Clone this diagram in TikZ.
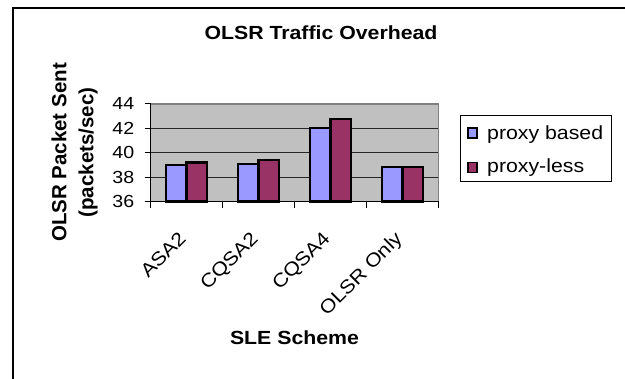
\documentclass[tikz,border=0pt]{standalone}
\usepackage{fontspec}
\setmainfont{Liberation Sans}[FakeStretch=1.12]
\newfontfamily\sidefont{Liberation Sans}
\definecolor{barblue}{HTML}{9999FF}
\definecolor{barplum}{HTML}{993366}
\definecolor{plotgray}{HTML}{C0C0C0}
\definecolor{bordergray}{HTML}{808080}
\begin{document}
\begin{tikzpicture}[x=1pt,y=-1pt,
  every node/.style={inner sep=0pt},
  headtext/.style={font=\fontsize{19}{22}\selectfont\bfseries},
  sidetext/.style={font=\sidefont\fontsize{20.5}{24}\selectfont\bfseries,rotate=90},
  ticktext/.style={font=\fontsize{17.5}{20}\selectfont,anchor=east},
  cattext/.style={font=\fontsize{19}{22}\selectfont,rotate=45,anchor=north east},
  legtext/.style={font=\fontsize{19}{22}\selectfont,anchor=base west},
  bluebar/.style={fill=barblue,draw=black,line width=2.2pt},
  plumbar/.style={fill=barplum,draw=black,line width=2.2pt}]
\useasboundingbox (0,0) rectangle (625,379);
\draw[line width=1.8pt] (13.3,379) -- (13.3,8.3) -- (625,8.3);
\node[headtext] (title) at (321,33) {OLSR Traffic Overhead};
\node[sidetext] (ytitle) at (59,152.5) {OLSR Packet Sent};
\node[sidetext] (yunit) at (88,152.5) {(packets/sec)};
\node[headtext] (xtitle) at (294.5,337.5) {SLE Scheme};
% plot area, one unit per category and per packet/sec
\begin{scope}[shift={(150.5,201.5)},x=72pt,y=12.19pt,shift={(0,-36)}]
\fill[plotgray] (0,36) rectangle (4,44);
\draw[black!85,line width=0.9pt] (0,38) -- (4,38);
\draw[black!85,line width=0.9pt] (0,40) -- (4,40);
\draw[black!85,line width=0.9pt] (0,42) -- (4,42);
\draw[bluebar] (0.2125,36) rectangle (0.5,39.0);
\draw[plumbar] (0.5,36) rectangle (0.7875,39.2);
\draw[bluebar] (1.2125,36) rectangle (1.5,39.05);
\draw[plumbar] (1.5,36) rectangle (1.7875,39.4);
\draw[bluebar] (2.2125,36) rectangle (2.5,42.0);
\draw[plumbar] (2.5,36) rectangle (2.7875,42.8);
\draw[bluebar] (3.2125,36) rectangle (3.5,38.8);
\draw[plumbar] (3.5,36) rectangle (3.7875,38.8);
\draw[bordergray,line width=1.4pt] (0,44) -- (4,44) -- (4,36);
\draw[line width=1pt] (0,44) -- (0,36) -- (4,36);
\draw[line width=1pt] (-6pt,44) -- (0,44);
\draw[line width=1pt] (-6pt,42) -- (0,42);
\draw[line width=1pt] (-6pt,40) -- (0,40);
\draw[line width=1pt] (-6pt,38) -- (0,38);
\draw[line width=1pt] (-6pt,36) -- (0,36);
\draw[line width=1pt] (0,36) -- ++(0,-6.5pt);
\draw[line width=1pt] (1,36) -- ++(0,-6.5pt);
\draw[line width=1pt] (2,36) -- ++(0,-6.5pt);
\draw[line width=1pt] (3,36) -- ++(0,-6.5pt);
\draw[line width=1pt] (4,36) -- ++(0,-6.5pt);
\node[ticktext] (lab44) at ([xshift=-16pt]0,44) {44};
\node[ticktext] (lab42) at ([xshift=-16pt]0,42) {42};
\node[ticktext] (lab40) at ([xshift=-16pt]0,40) {40};
\node[ticktext] (lab38) at ([xshift=-16pt]0,38) {38};
\node[ticktext] (lab36) at ([xshift=-16pt]0,36) {36};
\node[cattext] (asa) at ([xshift=-9pt,yshift=-28.5pt]0.5,36) {ASA2};
\node[cattext] (cqsatwo) at ([xshift=-9pt,yshift=-28.5pt]1.5,36) {CQSA2};
\node[cattext] (cqsafour) at ([xshift=-9pt,yshift=-28.5pt]2.5,36) {CQSA4};
\node[cattext] (olsronly) at ([xshift=-9pt,yshift=-28.5pt]3.5,36) {OLSR Only};
\end{scope}
% legend
\draw[line width=1pt] (460,116) rectangle (611.5,182);
\draw[bluebar,line width=1.8pt] (468,128) rectangle (477,138);
\draw[plumbar,line width=1.8pt] (468,162.5) rectangle (477,172.5);
\node[legtext] (legblue) at (487,139.5) {proxy based};
\node[legtext] (legplum) at (487,172.5) {proxy-less};
\end{tikzpicture}
\end{document}
